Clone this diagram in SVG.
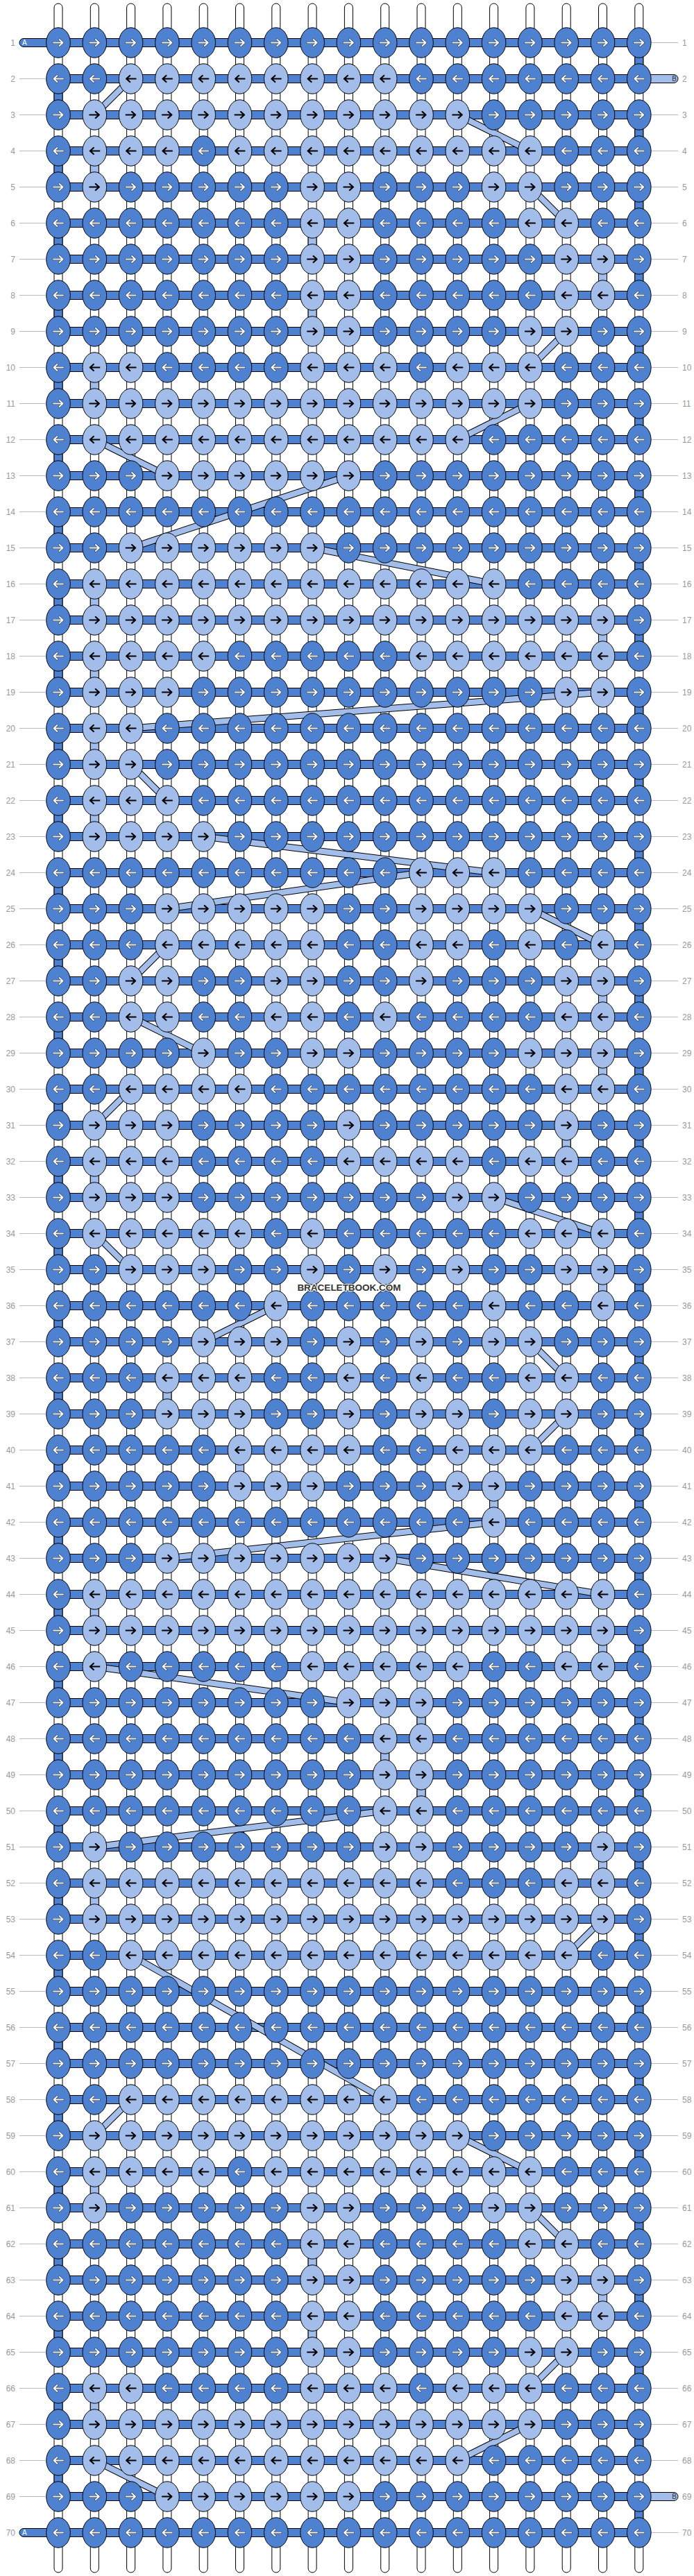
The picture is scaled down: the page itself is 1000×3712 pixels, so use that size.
<svg xmlns="http://www.w3.org/2000/svg" width="1000" height="3712" viewBox="0 0 1000 3712">
<style>
.lbl{font-family:"Liberation Sans",Arial,sans-serif;font-size:12px;fill:#999}
.gl{stroke:#bbb;stroke-width:1;fill:none}
.warp{fill:#fff;stroke:#000;stroke-width:1}
.dk{fill:#4f81d1;stroke:#000;stroke-width:1}
.lt{fill:#a3bdea;stroke:#000;stroke-width:1}
.ao{fill:none;stroke:#1a1a1a;stroke-width:3;stroke-linecap:round;stroke-linejoin:round}
.aw{fill:none;stroke:#fff;stroke-width:2;stroke-linecap:round;stroke-linejoin:round}
.ab{fill:none;stroke:#000;stroke-width:2.2;stroke-linecap:round;stroke-linejoin:round}
.wm{font-family:"Liberation Sans",Arial,sans-serif;font-size:13.5px;font-weight:bold;fill:#333;stroke:#fff;stroke-width:2;paint-order:stroke}
</style>
<defs>
<path id="pr" d="M-7,0H5.5M1.5,-4.5L6.5,0L1.5,4.5"/>
<path id="pl" d="M7,0H-5.5M-1.5,-4.5L-6.5,0L-1.5,4.5"/>
<g id="a"><ellipse class="dk" rx="17.3" ry="21.7"/><use href="#pr" class="ao"/><use href="#pr" class="aw"/></g>
<g id="b"><ellipse class="dk" rx="17.3" ry="21.7"/><use href="#pl" class="ao"/><use href="#pl" class="aw"/></g>
<g id="c"><ellipse class="lt" rx="17.3" ry="21.7"/><use href="#pr" class="ab"/></g>
<g id="d"><ellipse class="lt" rx="17.3" ry="21.7"/><use href="#pl" class="ab"/></g>
<path id="bd" d="M188.6,113.5L136.3,165.5M659.3,165.5L763.9,217.5M763.9,269.5L816.2,321.5M816.2,477.5L763.9,529.5M763.9,581.5L659.3,633.5M136.3,633.5L240.9,685.5M502.4,685.5L188.6,789.5M450.1,789.5L711.6,841.5M868.5,997.5L188.6,1049.5M188.6,1101.5L240.9,1153.5M293.2,1205.5L711.6,1257.5M607,1257.5L240.9,1309.5M763.9,1309.5L868.5,1361.5M240.9,1361.5L188.6,1413.5M188.6,1465.5L293.2,1517.5M188.6,1569.5L136.3,1621.5M711.6,1725.5L868.5,1777.5M136.3,1777.5L188.6,1829.5M397.8,1881.5L293.2,1933.5M763.9,1933.5L816.2,1985.5M816.2,2037.5L763.9,2089.5M711.6,2193.5L240.9,2245.5M554.7,2245.5L868.5,2297.5M136.3,2401.5L502.4,2453.5M554.7,2609.5L136.3,2661.5M868.5,2765.5L816.2,2817.5M188.6,2817.5L554.7,3025.5M188.6,3025.5L136.3,3077.5M659.3,3077.5L763.9,3129.5M763.9,3181.5L816.2,3233.5M816.2,3389.5L763.9,3441.5M763.9,3493.5L659.3,3545.5M136.3,3545.5L240.9,3597.5"/>
</defs>

<g id="labels">
<path class="gl" d="M28,113.5h38M28,165.5h38M28,217.5h38M28,269.5h38M28,321.5h38M28,373.5h38M28,425.5h38M28,477.5h38M28,529.5h38M28,581.5h38M28,633.5h38M28,685.5h38M28,737.5h38M28,789.5h38M28,841.5h38M28,893.5h38M28,945.5h38M28,997.5h38M28,1049.5h38M28,1101.5h38M28,1153.5h38M28,1205.5h38M28,1257.5h38M28,1309.5h38M28,1361.5h38M28,1413.5h38M28,1465.5h38M28,1517.5h38M28,1569.5h38M28,1621.5h38M28,1673.5h38M28,1725.5h38M28,1777.5h38M28,1829.5h38M28,1881.5h38M28,1933.5h38M28,1985.5h38M28,2037.5h38M28,2089.5h38M28,2141.5h38M28,2193.5h38M28,2245.5h38M28,2297.5h38M28,2349.5h38M28,2401.5h38M28,2453.5h38M28,2505.5h38M28,2557.5h38M28,2609.5h38M28,2661.5h38M28,2713.5h38M28,2765.5h38M28,2817.5h38M28,2869.5h38M28,2921.5h38M28,2973.5h38M28,3025.5h38M28,3077.5h38M28,3129.5h38M28,3181.5h38M28,3233.5h38M28,3285.5h38M28,3337.5h38M28,3389.5h38M28,3441.5h38M28,3493.5h38M28,3545.5h38M28,3597.5h38"/>
<path class="gl" d="M938,61.5h39M938,165.5h39M938,217.5h39M938,269.5h39M938,321.5h39M938,373.5h39M938,425.5h39M938,477.5h39M938,529.5h39M938,581.5h39M938,633.5h39M938,685.5h39M938,737.5h39M938,789.5h39M938,841.5h39M938,893.5h39M938,945.5h39M938,997.5h39M938,1049.5h39M938,1101.5h39M938,1153.5h39M938,1205.5h39M938,1257.5h39M938,1309.5h39M938,1361.5h39M938,1413.5h39M938,1465.5h39M938,1517.5h39M938,1569.5h39M938,1621.5h39M938,1673.5h39M938,1725.5h39M938,1777.5h39M938,1829.5h39M938,1881.5h39M938,1933.5h39M938,1985.5h39M938,2037.5h39M938,2089.5h39M938,2141.5h39M938,2193.5h39M938,2245.5h39M938,2297.5h39M938,2349.5h39M938,2401.5h39M938,2453.5h39M938,2505.5h39M938,2557.5h39M938,2609.5h39M938,2661.5h39M938,2713.5h39M938,2765.5h39M938,2817.5h39M938,2869.5h39M938,2921.5h39M938,2973.5h39M938,3025.5h39M938,3077.5h39M938,3129.5h39M938,3181.5h39M938,3233.5h39M938,3285.5h39M938,3337.5h39M938,3389.5h39M938,3441.5h39M938,3493.5h39M938,3545.5h39M938,3649.5h39"/>
<g class="lbl" text-anchor="end">
<text x="22" y="66">1</text><text x="22" y="118">2</text><text x="22" y="170">3</text><text x="22" y="222">4</text><text x="22" y="274">5</text><text x="22" y="326">6</text><text x="22" y="378">7</text><text x="22" y="430">8</text><text x="22" y="482">9</text><text x="22" y="534">10</text><text x="22" y="586">11</text><text x="22" y="638">12</text><text x="22" y="690">13</text><text x="22" y="742">14</text><text x="22" y="794">15</text><text x="22" y="846">16</text><text x="22" y="898">17</text><text x="22" y="950">18</text><text x="22" y="1002">19</text><text x="22" y="1054">20</text><text x="22" y="1106">21</text><text x="22" y="1158">22</text><text x="22" y="1210">23</text><text x="22" y="1262">24</text><text x="22" y="1314">25</text><text x="22" y="1366">26</text><text x="22" y="1418">27</text><text x="22" y="1470">28</text><text x="22" y="1522">29</text><text x="22" y="1574">30</text><text x="22" y="1626">31</text><text x="22" y="1678">32</text><text x="22" y="1730">33</text><text x="22" y="1782">34</text><text x="22" y="1834">35</text><text x="22" y="1886">36</text><text x="22" y="1938">37</text><text x="22" y="1990">38</text><text x="22" y="2042">39</text><text x="22" y="2094">40</text><text x="22" y="2146">41</text><text x="22" y="2198">42</text><text x="22" y="2250">43</text><text x="22" y="2302">44</text><text x="22" y="2354">45</text><text x="22" y="2406">46</text><text x="22" y="2458">47</text><text x="22" y="2510">48</text><text x="22" y="2562">49</text><text x="22" y="2614">50</text><text x="22" y="2666">51</text><text x="22" y="2718">52</text><text x="22" y="2770">53</text><text x="22" y="2822">54</text><text x="22" y="2874">55</text><text x="22" y="2926">56</text><text x="22" y="2978">57</text><text x="22" y="3030">58</text><text x="22" y="3082">59</text><text x="22" y="3134">60</text><text x="22" y="3186">61</text><text x="22" y="3238">62</text><text x="22" y="3290">63</text><text x="22" y="3342">64</text><text x="22" y="3394">65</text><text x="22" y="3446">66</text><text x="22" y="3498">67</text><text x="22" y="3550">68</text><text x="22" y="3602">69</text><text x="22" y="3654">70</text>
</g>
<g class="lbl">
<text x="983" y="66">1</text><text x="983" y="118">2</text><text x="983" y="170">3</text><text x="983" y="222">4</text><text x="983" y="274">5</text><text x="983" y="326">6</text><text x="983" y="378">7</text><text x="983" y="430">8</text><text x="983" y="482">9</text><text x="983" y="534">10</text><text x="983" y="586">11</text><text x="983" y="638">12</text><text x="983" y="690">13</text><text x="983" y="742">14</text><text x="983" y="794">15</text><text x="983" y="846">16</text><text x="983" y="898">17</text><text x="983" y="950">18</text><text x="983" y="1002">19</text><text x="983" y="1054">20</text><text x="983" y="1106">21</text><text x="983" y="1158">22</text><text x="983" y="1210">23</text><text x="983" y="1262">24</text><text x="983" y="1314">25</text><text x="983" y="1366">26</text><text x="983" y="1418">27</text><text x="983" y="1470">28</text><text x="983" y="1522">29</text><text x="983" y="1574">30</text><text x="983" y="1626">31</text><text x="983" y="1678">32</text><text x="983" y="1730">33</text><text x="983" y="1782">34</text><text x="983" y="1834">35</text><text x="983" y="1886">36</text><text x="983" y="1938">37</text><text x="983" y="1990">38</text><text x="983" y="2042">39</text><text x="983" y="2094">40</text><text x="983" y="2146">41</text><text x="983" y="2198">42</text><text x="983" y="2250">43</text><text x="983" y="2302">44</text><text x="983" y="2354">45</text><text x="983" y="2406">46</text><text x="983" y="2458">47</text><text x="983" y="2510">48</text><text x="983" y="2562">49</text><text x="983" y="2614">50</text><text x="983" y="2666">51</text><text x="983" y="2718">52</text><text x="983" y="2770">53</text><text x="983" y="2822">54</text><text x="983" y="2874">55</text><text x="983" y="2926">56</text><text x="983" y="2978">57</text><text x="983" y="3030">58</text><text x="983" y="3082">59</text><text x="983" y="3134">60</text><text x="983" y="3186">61</text><text x="983" y="3238">62</text><text x="983" y="3290">63</text><text x="983" y="3342">64</text><text x="983" y="3394">65</text><text x="983" y="3446">66</text><text x="983" y="3498">67</text><text x="983" y="3550">68</text><text x="983" y="3602">69</text><text x="983" y="3654">70</text>
</g>
</g>

<g id="warps">
<rect class="warp" x="78" y="5" width="12" height="3702" rx="6"/><rect class="warp" x="130.3" y="5" width="12" height="3702" rx="6"/><rect class="warp" x="182.6" y="5" width="12" height="3702" rx="6"/><rect class="warp" x="234.9" y="5" width="12" height="3702" rx="6"/><rect class="warp" x="287.2" y="5" width="12" height="3702" rx="6"/><rect class="warp" x="339.5" y="5" width="12" height="3702" rx="6"/><rect class="warp" x="391.8" y="5" width="12" height="3702" rx="6"/><rect class="warp" x="444.1" y="5" width="12" height="3702" rx="6"/><rect class="warp" x="496.4" y="5" width="12" height="3702" rx="6"/><rect class="warp" x="548.7" y="5" width="12" height="3702" rx="6"/><rect class="warp" x="601" y="5" width="12" height="3702" rx="6"/><rect class="warp" x="653.3" y="5" width="12" height="3702" rx="6"/><rect class="warp" x="705.6" y="5" width="12" height="3702" rx="6"/><rect class="warp" x="757.9" y="5" width="12" height="3702" rx="6"/><rect class="warp" x="810.2" y="5" width="12" height="3702" rx="6"/><rect class="warp" x="862.5" y="5" width="12" height="3702" rx="6"/><rect class="warp" x="914.8" y="5" width="12" height="3702" rx="6"/>
</g>

<g id="wefts">
<rect class="dk" x="28" y="55.5" width="64" height="12" rx="6"/>
<rect class="dk" x="28" y="3643.5" width="64" height="12" rx="6"/>
<rect class="lt" x="912" y="107.5" width="65" height="12" rx="6"/>
<rect class="lt" x="912" y="3591.5" width="65" height="12" rx="6"/>
<path class="dk" d="M84,55.5H920.8v12H84zM84,107.5H920.8v12H84zM84,159.5H920.8v12H84zM84,211.5H920.8v12H84zM84,263.5H920.8v12H84zM84,315.5H920.8v12H84zM84,367.5H920.8v12H84zM84,419.5H920.8v12H84zM84,471.5H920.8v12H84zM84,523.5H920.8v12H84zM84,575.5H920.8v12H84zM84,627.5H920.8v12H84zM84,679.5H920.8v12H84zM84,731.5H920.8v12H84zM84,783.5H920.8v12H84zM84,835.5H920.8v12H84zM84,887.5H920.8v12H84zM84,939.5H920.8v12H84zM84,991.5H920.8v12H84zM84,1043.5H920.8v12H84zM84,1095.5H920.8v12H84zM84,1147.5H920.8v12H84zM84,1199.5H920.8v12H84zM84,1251.5H920.8v12H84zM84,1303.5H920.8v12H84zM84,1355.5H920.8v12H84zM84,1407.5H920.8v12H84zM84,1459.5H920.8v12H84zM84,1511.5H920.8v12H84zM84,1563.5H920.8v12H84zM84,1615.5H920.8v12H84zM84,1667.5H920.8v12H84zM84,1719.5H920.8v12H84zM84,1771.5H920.8v12H84zM84,1823.5H920.8v12H84zM84,1875.5H920.8v12H84zM84,1927.5H920.8v12H84zM84,1979.5H920.8v12H84zM84,2031.5H920.8v12H84zM84,2083.5H920.8v12H84zM84,2135.5H920.8v12H84zM84,2187.5H920.8v12H84zM84,2239.5H920.8v12H84zM84,2291.5H920.8v12H84zM84,2343.5H920.8v12H84zM84,2395.5H920.8v12H84zM84,2447.5H920.8v12H84zM84,2499.5H920.8v12H84zM84,2551.5H920.8v12H84zM84,2603.5H920.8v12H84zM84,2655.5H920.8v12H84zM84,2707.5H920.8v12H84zM84,2759.5H920.8v12H84zM84,2811.5H920.8v12H84zM84,2863.5H920.8v12H84zM84,2915.5H920.8v12H84zM84,2967.5H920.8v12H84zM84,3019.5H920.8v12H84zM84,3071.5H920.8v12H84zM84,3123.5H920.8v12H84zM84,3175.5H920.8v12H84zM84,3227.5H920.8v12H84zM84,3279.5H920.8v12H84zM84,3331.5H920.8v12H84zM84,3383.5H920.8v12H84zM84,3435.5H920.8v12H84zM84,3487.5H920.8v12H84zM84,3539.5H920.8v12H84zM84,3591.5H920.8v12H84zM84,3643.5H920.8v12H84z"/>
<text x="32" y="65" font-family="Liberation Sans,Arial,sans-serif" font-size="10" fill="#fff">A</text>
<text x="32" y="3653" font-family="Liberation Sans,Arial,sans-serif" font-size="10" fill="#fff">A</text>
<text x="975" y="117" text-anchor="end" font-family="Liberation Sans,Arial,sans-serif" font-size="10" fill="#333">B</text>
<text x="975" y="3601" text-anchor="end" font-family="Liberation Sans,Arial,sans-serif" font-size="10" fill="#333">B</text>
</g>

<g id="connectors">
<path class="dk" d="M914.8,61.5h12v52h-12zM914.8,165.5h12v52h-12zM914.8,269.5h12v52h-12zM914.8,373.5h12v52h-12zM914.8,477.5h12v52h-12zM914.8,581.5h12v52h-12zM914.8,685.5h12v52h-12zM914.8,789.5h12v52h-12zM914.8,893.5h12v52h-12zM914.8,997.5h12v52h-12zM914.8,1101.5h12v52h-12zM914.8,1205.5h12v52h-12zM914.8,1309.5h12v52h-12zM914.8,1413.5h12v52h-12zM914.8,1517.5h12v52h-12zM914.8,1621.5h12v52h-12zM914.8,1725.5h12v52h-12zM914.8,1829.5h12v52h-12zM914.8,1933.5h12v52h-12zM914.8,2037.5h12v52h-12zM914.8,2141.5h12v52h-12zM914.8,2245.5h12v52h-12zM914.8,2349.5h12v52h-12zM914.8,2453.5h12v52h-12zM914.8,2557.5h12v52h-12zM914.8,2661.5h12v52h-12zM914.8,2765.5h12v52h-12zM914.8,2869.5h12v52h-12zM914.8,2973.5h12v52h-12zM914.8,3077.5h12v52h-12zM914.8,3181.5h12v52h-12zM914.8,3285.5h12v52h-12zM914.8,3389.5h12v52h-12zM914.8,3493.5h12v52h-12zM914.8,3597.5h12v52h-12zM78,113.5h12v52h-12zM78,217.5h12v52h-12zM78,321.5h12v52h-12zM78,425.5h12v52h-12zM78,529.5h12v52h-12zM78,633.5h12v52h-12zM78,737.5h12v52h-12zM78,841.5h12v52h-12zM78,945.5h12v52h-12zM78,1049.5h12v52h-12zM78,1153.5h12v52h-12zM78,1257.5h12v52h-12zM78,1361.5h12v52h-12zM78,1465.5h12v52h-12zM78,1569.5h12v52h-12zM78,1673.5h12v52h-12zM78,1777.5h12v52h-12zM78,1881.5h12v52h-12zM78,1985.5h12v52h-12zM78,2089.5h12v52h-12zM78,2193.5h12v52h-12zM78,2297.5h12v52h-12zM78,2401.5h12v52h-12zM78,2505.5h12v52h-12zM78,2609.5h12v52h-12zM78,2713.5h12v52h-12zM78,2817.5h12v52h-12zM78,2921.5h12v52h-12zM78,3025.5h12v52h-12zM78,3129.5h12v52h-12zM78,3233.5h12v52h-12zM78,3337.5h12v52h-12zM78,3441.5h12v52h-12zM78,3545.5h12v52h-12z"/>
<path class="lt" d="M130.3,217.5h12v52h-12zM130.3,529.5h12v52h-12zM130.3,841.5h12v52h-12zM130.3,945.5h12v52h-12zM130.3,1049.5h12v52h-12zM130.3,1153.5h12v52h-12zM130.3,1673.5h12v52h-12zM130.3,2297.5h12v52h-12zM130.3,2713.5h12v52h-12zM130.3,3129.5h12v52h-12zM130.3,3441.5h12v52h-12zM444.1,321.5h12v52h-12zM444.1,425.5h12v52h-12zM444.1,3233.5h12v52h-12zM444.1,3337.5h12v52h-12zM862.5,373.5h12v52h-12zM862.5,893.5h12v52h-12zM862.5,1413.5h12v52h-12zM862.5,1517.5h12v52h-12zM862.5,1829.5h12v52h-12zM862.5,2349.5h12v52h-12zM862.5,2661.5h12v52h-12zM862.5,3285.5h12v52h-12zM810.2,1621.5h12v52h-12zM234.9,1985.5h12v52h-12zM339.5,2089.5h12v52h-12zM705.6,2141.5h12v52h-12zM601,2453.5h12v52h-12zM601,2557.5h12v52h-12zM548.7,2505.5h12v52h-12z"/>
<use href="#bd" fill="none" stroke="#000" stroke-width="10"/>
<use href="#bd" fill="none" stroke="#a3bdea" stroke-width="8"/>
</g>

<g id="knots">
<g id="r1" transform="translate(0,61.5)"><use href="#a" x="84"/><use href="#a" x="136.3"/><use href="#a" x="188.6"/><use href="#a" x="240.9"/><use href="#a" x="293.2"/><use href="#a" x="345.5"/><use href="#a" x="397.8"/><use href="#a" x="450.1"/><use href="#a" x="502.4"/><use href="#a" x="554.7"/><use href="#a" x="607"/><use href="#a" x="659.3"/><use href="#a" x="711.6"/><use href="#a" x="763.9"/><use href="#a" x="816.2"/><use href="#a" x="868.5"/><use href="#a" x="920.8"/></g>
<g id="r2" transform="translate(0,113.5)"><use href="#b" x="84"/><use href="#b" x="136.3"/><use href="#d" x="188.6"/><use href="#d" x="240.9"/><use href="#d" x="293.2"/><use href="#d" x="345.5"/><use href="#d" x="397.8"/><use href="#d" x="450.1"/><use href="#d" x="502.4"/><use href="#d" x="554.7"/><use href="#b" x="607"/><use href="#b" x="659.3"/><use href="#b" x="711.6"/><use href="#b" x="763.9"/><use href="#b" x="816.2"/><use href="#b" x="868.5"/><use href="#b" x="920.8"/></g>
<g id="r3" transform="translate(0,165.5)"><use href="#a" x="84"/><use href="#c" x="136.3"/><use href="#c" x="188.6"/><use href="#c" x="240.9"/><use href="#c" x="293.2"/><use href="#c" x="345.5"/><use href="#c" x="397.8"/><use href="#c" x="450.1"/><use href="#c" x="502.4"/><use href="#c" x="554.7"/><use href="#c" x="607"/><use href="#c" x="659.3"/><use href="#a" x="711.6"/><use href="#a" x="763.9"/><use href="#a" x="816.2"/><use href="#a" x="868.5"/><use href="#a" x="920.8"/></g>
<g id="r4" transform="translate(0,217.5)"><use href="#b" x="84"/><use href="#d" x="136.3"/><use href="#d" x="188.6"/><use href="#d" x="240.9"/><use href="#b" x="293.2"/><use href="#d" x="345.5"/><use href="#d" x="397.8"/><use href="#d" x="450.1"/><use href="#d" x="502.4"/><use href="#d" x="554.7"/><use href="#d" x="607"/><use href="#d" x="659.3"/><use href="#d" x="711.6"/><use href="#d" x="763.9"/><use href="#b" x="816.2"/><use href="#b" x="868.5"/><use href="#b" x="920.8"/></g>
<g id="r5" transform="translate(0,269.5)"><use href="#a" x="84"/><use href="#c" x="136.3"/><use href="#a" x="188.6"/><use href="#a" x="240.9"/><use href="#a" x="293.2"/><use href="#a" x="345.5"/><use href="#a" x="397.8"/><use href="#c" x="450.1"/><use href="#c" x="502.4"/><use href="#a" x="554.7"/><use href="#a" x="607"/><use href="#a" x="659.3"/><use href="#c" x="711.6"/><use href="#c" x="763.9"/><use href="#a" x="816.2"/><use href="#a" x="868.5"/><use href="#a" x="920.8"/></g>
<g id="r6" transform="translate(0,321.5)"><use href="#b" x="84"/><use href="#b" x="136.3"/><use href="#b" x="188.6"/><use href="#b" x="240.9"/><use href="#b" x="293.2"/><use href="#b" x="345.5"/><use href="#b" x="397.8"/><use href="#d" x="450.1"/><use href="#d" x="502.4"/><use href="#b" x="554.7"/><use href="#b" x="607"/><use href="#b" x="659.3"/><use href="#b" x="711.6"/><use href="#d" x="763.9"/><use href="#d" x="816.2"/><use href="#b" x="868.5"/><use href="#b" x="920.8"/></g>
<g id="r7" transform="translate(0,373.5)"><use href="#a" x="84"/><use href="#a" x="136.3"/><use href="#a" x="188.6"/><use href="#a" x="240.9"/><use href="#a" x="293.2"/><use href="#a" x="345.5"/><use href="#a" x="397.8"/><use href="#c" x="450.1"/><use href="#c" x="502.4"/><use href="#a" x="554.7"/><use href="#a" x="607"/><use href="#a" x="659.3"/><use href="#a" x="711.6"/><use href="#a" x="763.9"/><use href="#c" x="816.2"/><use href="#c" x="868.5"/><use href="#a" x="920.8"/></g>
<g id="r8" transform="translate(0,425.5)"><use href="#b" x="84"/><use href="#b" x="136.3"/><use href="#b" x="188.6"/><use href="#b" x="240.9"/><use href="#b" x="293.2"/><use href="#b" x="345.5"/><use href="#b" x="397.8"/><use href="#d" x="450.1"/><use href="#d" x="502.4"/><use href="#b" x="554.7"/><use href="#b" x="607"/><use href="#b" x="659.3"/><use href="#b" x="711.6"/><use href="#b" x="763.9"/><use href="#d" x="816.2"/><use href="#d" x="868.5"/><use href="#b" x="920.8"/></g>
<g id="r9" transform="translate(0,477.5)"><use href="#a" x="84"/><use href="#a" x="136.3"/><use href="#a" x="188.6"/><use href="#a" x="240.9"/><use href="#a" x="293.2"/><use href="#a" x="345.5"/><use href="#a" x="397.8"/><use href="#c" x="450.1"/><use href="#c" x="502.4"/><use href="#a" x="554.7"/><use href="#a" x="607"/><use href="#a" x="659.3"/><use href="#a" x="711.6"/><use href="#c" x="763.9"/><use href="#c" x="816.2"/><use href="#a" x="868.5"/><use href="#a" x="920.8"/></g>
<g id="r10" transform="translate(0,529.5)"><use href="#b" x="84"/><use href="#d" x="136.3"/><use href="#d" x="188.6"/><use href="#b" x="240.9"/><use href="#b" x="293.2"/><use href="#b" x="345.5"/><use href="#b" x="397.8"/><use href="#d" x="450.1"/><use href="#d" x="502.4"/><use href="#d" x="554.7"/><use href="#b" x="607"/><use href="#d" x="659.3"/><use href="#d" x="711.6"/><use href="#d" x="763.9"/><use href="#b" x="816.2"/><use href="#b" x="868.5"/><use href="#b" x="920.8"/></g>
<g id="r11" transform="translate(0,581.5)"><use href="#a" x="84"/><use href="#c" x="136.3"/><use href="#c" x="188.6"/><use href="#c" x="240.9"/><use href="#c" x="293.2"/><use href="#c" x="345.5"/><use href="#c" x="397.8"/><use href="#c" x="450.1"/><use href="#c" x="502.4"/><use href="#c" x="554.7"/><use href="#c" x="607"/><use href="#c" x="659.3"/><use href="#c" x="711.6"/><use href="#c" x="763.9"/><use href="#a" x="816.2"/><use href="#a" x="868.5"/><use href="#a" x="920.8"/></g>
<g id="r12" transform="translate(0,633.5)"><use href="#b" x="84"/><use href="#d" x="136.3"/><use href="#d" x="188.6"/><use href="#d" x="240.9"/><use href="#d" x="293.2"/><use href="#d" x="345.5"/><use href="#d" x="397.8"/><use href="#d" x="450.1"/><use href="#d" x="502.4"/><use href="#d" x="554.7"/><use href="#d" x="607"/><use href="#d" x="659.3"/><use href="#b" x="711.6"/><use href="#b" x="763.9"/><use href="#b" x="816.2"/><use href="#b" x="868.5"/><use href="#b" x="920.8"/></g>
<g id="r13" transform="translate(0,685.5)"><use href="#a" x="84"/><use href="#a" x="136.3"/><use href="#a" x="188.6"/><use href="#c" x="240.9"/><use href="#c" x="293.2"/><use href="#c" x="345.5"/><use href="#c" x="397.8"/><use href="#c" x="450.1"/><use href="#c" x="502.4"/><use href="#a" x="554.7"/><use href="#a" x="607"/><use href="#a" x="659.3"/><use href="#a" x="711.6"/><use href="#a" x="763.9"/><use href="#a" x="816.2"/><use href="#a" x="868.5"/><use href="#a" x="920.8"/></g>
<g id="r14" transform="translate(0,737.5)"><use href="#b" x="84"/><use href="#b" x="136.3"/><use href="#b" x="188.6"/><use href="#b" x="240.9"/><use href="#b" x="293.2"/><use href="#b" x="345.5"/><use href="#b" x="397.8"/><use href="#b" x="450.1"/><use href="#b" x="502.4"/><use href="#b" x="554.7"/><use href="#b" x="607"/><use href="#b" x="659.3"/><use href="#b" x="711.6"/><use href="#b" x="763.9"/><use href="#b" x="816.2"/><use href="#b" x="868.5"/><use href="#b" x="920.8"/></g>
<g id="r15" transform="translate(0,789.5)"><use href="#a" x="84"/><use href="#a" x="136.3"/><use href="#c" x="188.6"/><use href="#c" x="240.9"/><use href="#c" x="293.2"/><use href="#c" x="345.5"/><use href="#c" x="397.8"/><use href="#c" x="450.1"/><use href="#a" x="502.4"/><use href="#a" x="554.7"/><use href="#a" x="607"/><use href="#a" x="659.3"/><use href="#a" x="711.6"/><use href="#a" x="763.9"/><use href="#a" x="816.2"/><use href="#a" x="868.5"/><use href="#a" x="920.8"/></g>
<g id="r16" transform="translate(0,841.5)"><use href="#b" x="84"/><use href="#d" x="136.3"/><use href="#d" x="188.6"/><use href="#d" x="240.9"/><use href="#d" x="293.2"/><use href="#d" x="345.5"/><use href="#d" x="397.8"/><use href="#d" x="450.1"/><use href="#d" x="502.4"/><use href="#d" x="554.7"/><use href="#d" x="607"/><use href="#d" x="659.3"/><use href="#d" x="711.6"/><use href="#b" x="763.9"/><use href="#b" x="816.2"/><use href="#b" x="868.5"/><use href="#b" x="920.8"/></g>
<g id="r17" transform="translate(0,893.5)"><use href="#a" x="84"/><use href="#c" x="136.3"/><use href="#c" x="188.6"/><use href="#c" x="240.9"/><use href="#c" x="293.2"/><use href="#c" x="345.5"/><use href="#c" x="397.8"/><use href="#c" x="450.1"/><use href="#c" x="502.4"/><use href="#c" x="554.7"/><use href="#c" x="607"/><use href="#c" x="659.3"/><use href="#c" x="711.6"/><use href="#c" x="763.9"/><use href="#c" x="816.2"/><use href="#c" x="868.5"/><use href="#a" x="920.8"/></g>
<g id="r18" transform="translate(0,945.5)"><use href="#b" x="84"/><use href="#d" x="136.3"/><use href="#d" x="188.6"/><use href="#d" x="240.9"/><use href="#d" x="293.2"/><use href="#b" x="345.5"/><use href="#b" x="397.8"/><use href="#b" x="450.1"/><use href="#b" x="502.4"/><use href="#b" x="554.7"/><use href="#d" x="607"/><use href="#d" x="659.3"/><use href="#d" x="711.6"/><use href="#d" x="763.9"/><use href="#d" x="816.2"/><use href="#d" x="868.5"/><use href="#b" x="920.8"/></g>
<g id="r19" transform="translate(0,997.5)"><use href="#a" x="84"/><use href="#c" x="136.3"/><use href="#c" x="188.6"/><use href="#c" x="240.9"/><use href="#a" x="293.2"/><use href="#a" x="345.5"/><use href="#a" x="397.8"/><use href="#a" x="450.1"/><use href="#a" x="502.4"/><use href="#a" x="554.7"/><use href="#a" x="607"/><use href="#a" x="659.3"/><use href="#a" x="711.6"/><use href="#a" x="763.9"/><use href="#c" x="816.2"/><use href="#c" x="868.5"/><use href="#a" x="920.8"/></g>
<g id="r20" transform="translate(0,1049.5)"><use href="#b" x="84"/><use href="#d" x="136.3"/><use href="#d" x="188.6"/><use href="#b" x="240.9"/><use href="#b" x="293.2"/><use href="#b" x="345.5"/><use href="#b" x="397.8"/><use href="#b" x="450.1"/><use href="#b" x="502.4"/><use href="#b" x="554.7"/><use href="#b" x="607"/><use href="#b" x="659.3"/><use href="#b" x="711.6"/><use href="#b" x="763.9"/><use href="#b" x="816.2"/><use href="#b" x="868.5"/><use href="#b" x="920.8"/></g>
<g id="r21" transform="translate(0,1101.5)"><use href="#a" x="84"/><use href="#c" x="136.3"/><use href="#c" x="188.6"/><use href="#a" x="240.9"/><use href="#a" x="293.2"/><use href="#a" x="345.5"/><use href="#a" x="397.8"/><use href="#a" x="450.1"/><use href="#a" x="502.4"/><use href="#a" x="554.7"/><use href="#a" x="607"/><use href="#a" x="659.3"/><use href="#a" x="711.6"/><use href="#a" x="763.9"/><use href="#a" x="816.2"/><use href="#a" x="868.5"/><use href="#a" x="920.8"/></g>
<g id="r22" transform="translate(0,1153.5)"><use href="#b" x="84"/><use href="#d" x="136.3"/><use href="#d" x="188.6"/><use href="#d" x="240.9"/><use href="#b" x="293.2"/><use href="#b" x="345.5"/><use href="#b" x="397.8"/><use href="#b" x="450.1"/><use href="#b" x="502.4"/><use href="#b" x="554.7"/><use href="#b" x="607"/><use href="#b" x="659.3"/><use href="#b" x="711.6"/><use href="#b" x="763.9"/><use href="#b" x="816.2"/><use href="#b" x="868.5"/><use href="#b" x="920.8"/></g>
<g id="r23" transform="translate(0,1205.5)"><use href="#a" x="84"/><use href="#c" x="136.3"/><use href="#c" x="188.6"/><use href="#c" x="240.9"/><use href="#c" x="293.2"/><use href="#a" x="345.5"/><use href="#a" x="397.8"/><use href="#a" x="450.1"/><use href="#a" x="502.4"/><use href="#a" x="554.7"/><use href="#a" x="607"/><use href="#a" x="659.3"/><use href="#a" x="711.6"/><use href="#a" x="763.9"/><use href="#a" x="816.2"/><use href="#a" x="868.5"/><use href="#a" x="920.8"/></g>
<g id="r24" transform="translate(0,1257.5)"><use href="#b" x="84"/><use href="#b" x="136.3"/><use href="#b" x="188.6"/><use href="#b" x="240.9"/><use href="#b" x="293.2"/><use href="#b" x="345.5"/><use href="#b" x="397.8"/><use href="#b" x="450.1"/><use href="#b" x="502.4"/><use href="#b" x="554.7"/><use href="#d" x="607"/><use href="#d" x="659.3"/><use href="#d" x="711.6"/><use href="#b" x="763.9"/><use href="#b" x="816.2"/><use href="#b" x="868.5"/><use href="#b" x="920.8"/></g>
<g id="r25" transform="translate(0,1309.5)"><use href="#a" x="84"/><use href="#a" x="136.3"/><use href="#a" x="188.6"/><use href="#c" x="240.9"/><use href="#c" x="293.2"/><use href="#c" x="345.5"/><use href="#c" x="397.8"/><use href="#c" x="450.1"/><use href="#a" x="502.4"/><use href="#a" x="554.7"/><use href="#c" x="607"/><use href="#c" x="659.3"/><use href="#c" x="711.6"/><use href="#c" x="763.9"/><use href="#a" x="816.2"/><use href="#a" x="868.5"/><use href="#a" x="920.8"/></g>
<g id="r26" transform="translate(0,1361.5)"><use href="#b" x="84"/><use href="#b" x="136.3"/><use href="#b" x="188.6"/><use href="#d" x="240.9"/><use href="#d" x="293.2"/><use href="#d" x="345.5"/><use href="#d" x="397.8"/><use href="#d" x="450.1"/><use href="#b" x="502.4"/><use href="#b" x="554.7"/><use href="#d" x="607"/><use href="#d" x="659.3"/><use href="#b" x="711.6"/><use href="#d" x="763.9"/><use href="#b" x="816.2"/><use href="#d" x="868.5"/><use href="#b" x="920.8"/></g>
<g id="r27" transform="translate(0,1413.5)"><use href="#a" x="84"/><use href="#a" x="136.3"/><use href="#c" x="188.6"/><use href="#c" x="240.9"/><use href="#a" x="293.2"/><use href="#a" x="345.5"/><use href="#c" x="397.8"/><use href="#c" x="450.1"/><use href="#a" x="502.4"/><use href="#a" x="554.7"/><use href="#c" x="607"/><use href="#a" x="659.3"/><use href="#a" x="711.6"/><use href="#a" x="763.9"/><use href="#c" x="816.2"/><use href="#c" x="868.5"/><use href="#a" x="920.8"/></g>
<g id="r28" transform="translate(0,1465.5)"><use href="#b" x="84"/><use href="#b" x="136.3"/><use href="#d" x="188.6"/><use href="#d" x="240.9"/><use href="#b" x="293.2"/><use href="#b" x="345.5"/><use href="#d" x="397.8"/><use href="#d" x="450.1"/><use href="#b" x="502.4"/><use href="#d" x="554.7"/><use href="#b" x="607"/><use href="#b" x="659.3"/><use href="#b" x="711.6"/><use href="#b" x="763.9"/><use href="#d" x="816.2"/><use href="#d" x="868.5"/><use href="#b" x="920.8"/></g>
<g id="r29" transform="translate(0,1517.5)"><use href="#a" x="84"/><use href="#a" x="136.3"/><use href="#a" x="188.6"/><use href="#a" x="240.9"/><use href="#c" x="293.2"/><use href="#a" x="345.5"/><use href="#a" x="397.8"/><use href="#c" x="450.1"/><use href="#c" x="502.4"/><use href="#a" x="554.7"/><use href="#a" x="607"/><use href="#a" x="659.3"/><use href="#a" x="711.6"/><use href="#c" x="763.9"/><use href="#c" x="816.2"/><use href="#c" x="868.5"/><use href="#a" x="920.8"/></g>
<g id="r30" transform="translate(0,1569.5)"><use href="#b" x="84"/><use href="#b" x="136.3"/><use href="#d" x="188.6"/><use href="#d" x="240.9"/><use href="#d" x="293.2"/><use href="#d" x="345.5"/><use href="#b" x="397.8"/><use href="#b" x="450.1"/><use href="#b" x="502.4"/><use href="#b" x="554.7"/><use href="#b" x="607"/><use href="#b" x="659.3"/><use href="#b" x="711.6"/><use href="#b" x="763.9"/><use href="#d" x="816.2"/><use href="#d" x="868.5"/><use href="#b" x="920.8"/></g>
<g id="r31" transform="translate(0,1621.5)"><use href="#a" x="84"/><use href="#c" x="136.3"/><use href="#c" x="188.6"/><use href="#c" x="240.9"/><use href="#a" x="293.2"/><use href="#a" x="345.5"/><use href="#a" x="397.8"/><use href="#a" x="450.1"/><use href="#c" x="502.4"/><use href="#a" x="554.7"/><use href="#a" x="607"/><use href="#a" x="659.3"/><use href="#a" x="711.6"/><use href="#a" x="763.9"/><use href="#c" x="816.2"/><use href="#a" x="868.5"/><use href="#a" x="920.8"/></g>
<g id="r32" transform="translate(0,1673.5)"><use href="#b" x="84"/><use href="#d" x="136.3"/><use href="#d" x="188.6"/><use href="#d" x="240.9"/><use href="#b" x="293.2"/><use href="#b" x="345.5"/><use href="#b" x="397.8"/><use href="#b" x="450.1"/><use href="#d" x="502.4"/><use href="#d" x="554.7"/><use href="#d" x="607"/><use href="#d" x="659.3"/><use href="#b" x="711.6"/><use href="#d" x="763.9"/><use href="#d" x="816.2"/><use href="#b" x="868.5"/><use href="#b" x="920.8"/></g>
<g id="r33" transform="translate(0,1725.5)"><use href="#a" x="84"/><use href="#c" x="136.3"/><use href="#c" x="188.6"/><use href="#c" x="240.9"/><use href="#a" x="293.2"/><use href="#a" x="345.5"/><use href="#a" x="397.8"/><use href="#a" x="450.1"/><use href="#a" x="502.4"/><use href="#a" x="554.7"/><use href="#a" x="607"/><use href="#c" x="659.3"/><use href="#c" x="711.6"/><use href="#a" x="763.9"/><use href="#a" x="816.2"/><use href="#a" x="868.5"/><use href="#a" x="920.8"/></g>
<g id="r34" transform="translate(0,1777.5)"><use href="#b" x="84"/><use href="#d" x="136.3"/><use href="#d" x="188.6"/><use href="#d" x="240.9"/><use href="#d" x="293.2"/><use href="#d" x="345.5"/><use href="#b" x="397.8"/><use href="#d" x="450.1"/><use href="#b" x="502.4"/><use href="#b" x="554.7"/><use href="#b" x="607"/><use href="#b" x="659.3"/><use href="#b" x="711.6"/><use href="#d" x="763.9"/><use href="#d" x="816.2"/><use href="#d" x="868.5"/><use href="#b" x="920.8"/></g>
<g id="r35" transform="translate(0,1829.5)"><use href="#a" x="84"/><use href="#a" x="136.3"/><use href="#c" x="188.6"/><use href="#c" x="240.9"/><use href="#c" x="293.2"/><use href="#a" x="345.5"/><use href="#a" x="397.8"/><use href="#c" x="450.1"/><use href="#a" x="502.4"/><use href="#c" x="554.7"/><use href="#a" x="607"/><use href="#c" x="659.3"/><use href="#a" x="711.6"/><use href="#a" x="763.9"/><use href="#c" x="816.2"/><use href="#c" x="868.5"/><use href="#a" x="920.8"/></g>
<g id="r36" transform="translate(0,1881.5)"><use href="#b" x="84"/><use href="#b" x="136.3"/><use href="#b" x="188.6"/><use href="#b" x="240.9"/><use href="#b" x="293.2"/><use href="#b" x="345.5"/><use href="#d" x="397.8"/><use href="#b" x="450.1"/><use href="#b" x="502.4"/><use href="#b" x="554.7"/><use href="#b" x="607"/><use href="#b" x="659.3"/><use href="#d" x="711.6"/><use href="#b" x="763.9"/><use href="#b" x="816.2"/><use href="#d" x="868.5"/><use href="#b" x="920.8"/></g>
<g id="r37" transform="translate(0,1933.5)"><use href="#a" x="84"/><use href="#a" x="136.3"/><use href="#a" x="188.6"/><use href="#a" x="240.9"/><use href="#c" x="293.2"/><use href="#c" x="345.5"/><use href="#c" x="397.8"/><use href="#a" x="450.1"/><use href="#c" x="502.4"/><use href="#a" x="554.7"/><use href="#c" x="607"/><use href="#a" x="659.3"/><use href="#c" x="711.6"/><use href="#c" x="763.9"/><use href="#a" x="816.2"/><use href="#a" x="868.5"/><use href="#a" x="920.8"/></g>
<g id="r38" transform="translate(0,1985.5)"><use href="#b" x="84"/><use href="#b" x="136.3"/><use href="#b" x="188.6"/><use href="#d" x="240.9"/><use href="#d" x="293.2"/><use href="#d" x="345.5"/><use href="#b" x="397.8"/><use href="#b" x="450.1"/><use href="#d" x="502.4"/><use href="#b" x="554.7"/><use href="#d" x="607"/><use href="#b" x="659.3"/><use href="#b" x="711.6"/><use href="#d" x="763.9"/><use href="#d" x="816.2"/><use href="#b" x="868.5"/><use href="#b" x="920.8"/></g>
<g id="r39" transform="translate(0,2037.5)"><use href="#a" x="84"/><use href="#a" x="136.3"/><use href="#a" x="188.6"/><use href="#c" x="240.9"/><use href="#c" x="293.2"/><use href="#c" x="345.5"/><use href="#a" x="397.8"/><use href="#a" x="450.1"/><use href="#c" x="502.4"/><use href="#a" x="554.7"/><use href="#c" x="607"/><use href="#c" x="659.3"/><use href="#a" x="711.6"/><use href="#c" x="763.9"/><use href="#c" x="816.2"/><use href="#a" x="868.5"/><use href="#a" x="920.8"/></g>
<g id="r40" transform="translate(0,2089.5)"><use href="#b" x="84"/><use href="#b" x="136.3"/><use href="#b" x="188.6"/><use href="#b" x="240.9"/><use href="#b" x="293.2"/><use href="#d" x="345.5"/><use href="#d" x="397.8"/><use href="#d" x="450.1"/><use href="#d" x="502.4"/><use href="#b" x="554.7"/><use href="#b" x="607"/><use href="#d" x="659.3"/><use href="#d" x="711.6"/><use href="#d" x="763.9"/><use href="#b" x="816.2"/><use href="#b" x="868.5"/><use href="#b" x="920.8"/></g>
<g id="r41" transform="translate(0,2141.5)"><use href="#a" x="84"/><use href="#a" x="136.3"/><use href="#a" x="188.6"/><use href="#a" x="240.9"/><use href="#a" x="293.2"/><use href="#c" x="345.5"/><use href="#c" x="397.8"/><use href="#c" x="450.1"/><use href="#a" x="502.4"/><use href="#a" x="554.7"/><use href="#a" x="607"/><use href="#c" x="659.3"/><use href="#c" x="711.6"/><use href="#a" x="763.9"/><use href="#a" x="816.2"/><use href="#a" x="868.5"/><use href="#a" x="920.8"/></g>
<g id="r42" transform="translate(0,2193.5)"><use href="#b" x="84"/><use href="#b" x="136.3"/><use href="#b" x="188.6"/><use href="#b" x="240.9"/><use href="#b" x="293.2"/><use href="#b" x="345.5"/><use href="#b" x="397.8"/><use href="#b" x="450.1"/><use href="#b" x="502.4"/><use href="#b" x="554.7"/><use href="#b" x="607"/><use href="#b" x="659.3"/><use href="#d" x="711.6"/><use href="#b" x="763.9"/><use href="#b" x="816.2"/><use href="#b" x="868.5"/><use href="#b" x="920.8"/></g>
<g id="r43" transform="translate(0,2245.5)"><use href="#a" x="84"/><use href="#a" x="136.3"/><use href="#a" x="188.6"/><use href="#c" x="240.9"/><use href="#c" x="293.2"/><use href="#c" x="345.5"/><use href="#c" x="397.8"/><use href="#c" x="450.1"/><use href="#c" x="502.4"/><use href="#c" x="554.7"/><use href="#a" x="607"/><use href="#a" x="659.3"/><use href="#a" x="711.6"/><use href="#a" x="763.9"/><use href="#a" x="816.2"/><use href="#a" x="868.5"/><use href="#a" x="920.8"/></g>
<g id="r44" transform="translate(0,2297.5)"><use href="#b" x="84"/><use href="#d" x="136.3"/><use href="#d" x="188.6"/><use href="#d" x="240.9"/><use href="#d" x="293.2"/><use href="#d" x="345.5"/><use href="#d" x="397.8"/><use href="#d" x="450.1"/><use href="#d" x="502.4"/><use href="#d" x="554.7"/><use href="#d" x="607"/><use href="#d" x="659.3"/><use href="#d" x="711.6"/><use href="#d" x="763.9"/><use href="#d" x="816.2"/><use href="#d" x="868.5"/><use href="#b" x="920.8"/></g>
<g id="r45" transform="translate(0,2349.5)"><use href="#a" x="84"/><use href="#c" x="136.3"/><use href="#c" x="188.6"/><use href="#c" x="240.9"/><use href="#c" x="293.2"/><use href="#c" x="345.5"/><use href="#c" x="397.8"/><use href="#c" x="450.1"/><use href="#c" x="502.4"/><use href="#c" x="554.7"/><use href="#c" x="607"/><use href="#c" x="659.3"/><use href="#c" x="711.6"/><use href="#c" x="763.9"/><use href="#c" x="816.2"/><use href="#c" x="868.5"/><use href="#a" x="920.8"/></g>
<g id="r46" transform="translate(0,2401.5)"><use href="#b" x="84"/><use href="#d" x="136.3"/><use href="#b" x="188.6"/><use href="#b" x="240.9"/><use href="#b" x="293.2"/><use href="#b" x="345.5"/><use href="#b" x="397.8"/><use href="#d" x="450.1"/><use href="#d" x="502.4"/><use href="#d" x="554.7"/><use href="#d" x="607"/><use href="#d" x="659.3"/><use href="#b" x="711.6"/><use href="#b" x="763.9"/><use href="#d" x="816.2"/><use href="#d" x="868.5"/><use href="#b" x="920.8"/></g>
<g id="r47" transform="translate(0,2453.5)"><use href="#a" x="84"/><use href="#a" x="136.3"/><use href="#a" x="188.6"/><use href="#a" x="240.9"/><use href="#a" x="293.2"/><use href="#a" x="345.5"/><use href="#a" x="397.8"/><use href="#a" x="450.1"/><use href="#c" x="502.4"/><use href="#c" x="554.7"/><use href="#c" x="607"/><use href="#a" x="659.3"/><use href="#a" x="711.6"/><use href="#a" x="763.9"/><use href="#a" x="816.2"/><use href="#a" x="868.5"/><use href="#a" x="920.8"/></g>
<g id="r48" transform="translate(0,2505.5)"><use href="#b" x="84"/><use href="#b" x="136.3"/><use href="#b" x="188.6"/><use href="#b" x="240.9"/><use href="#b" x="293.2"/><use href="#b" x="345.5"/><use href="#b" x="397.8"/><use href="#b" x="450.1"/><use href="#b" x="502.4"/><use href="#d" x="554.7"/><use href="#d" x="607"/><use href="#b" x="659.3"/><use href="#b" x="711.6"/><use href="#b" x="763.9"/><use href="#b" x="816.2"/><use href="#b" x="868.5"/><use href="#b" x="920.8"/></g>
<g id="r49" transform="translate(0,2557.5)"><use href="#a" x="84"/><use href="#a" x="136.3"/><use href="#a" x="188.6"/><use href="#a" x="240.9"/><use href="#a" x="293.2"/><use href="#a" x="345.5"/><use href="#a" x="397.8"/><use href="#a" x="450.1"/><use href="#a" x="502.4"/><use href="#c" x="554.7"/><use href="#c" x="607"/><use href="#a" x="659.3"/><use href="#a" x="711.6"/><use href="#a" x="763.9"/><use href="#a" x="816.2"/><use href="#a" x="868.5"/><use href="#a" x="920.8"/></g>
<g id="r50" transform="translate(0,2609.5)"><use href="#b" x="84"/><use href="#b" x="136.3"/><use href="#b" x="188.6"/><use href="#b" x="240.9"/><use href="#b" x="293.2"/><use href="#b" x="345.5"/><use href="#b" x="397.8"/><use href="#b" x="450.1"/><use href="#b" x="502.4"/><use href="#d" x="554.7"/><use href="#d" x="607"/><use href="#b" x="659.3"/><use href="#b" x="711.6"/><use href="#b" x="763.9"/><use href="#b" x="816.2"/><use href="#b" x="868.5"/><use href="#b" x="920.8"/></g>
<g id="r51" transform="translate(0,2661.5)"><use href="#a" x="84"/><use href="#c" x="136.3"/><use href="#a" x="188.6"/><use href="#a" x="240.9"/><use href="#a" x="293.2"/><use href="#a" x="345.5"/><use href="#a" x="397.8"/><use href="#a" x="450.1"/><use href="#a" x="502.4"/><use href="#c" x="554.7"/><use href="#c" x="607"/><use href="#a" x="659.3"/><use href="#a" x="711.6"/><use href="#a" x="763.9"/><use href="#a" x="816.2"/><use href="#c" x="868.5"/><use href="#a" x="920.8"/></g>
<g id="r52" transform="translate(0,2713.5)"><use href="#b" x="84"/><use href="#d" x="136.3"/><use href="#d" x="188.6"/><use href="#d" x="240.9"/><use href="#d" x="293.2"/><use href="#d" x="345.5"/><use href="#d" x="397.8"/><use href="#d" x="450.1"/><use href="#d" x="502.4"/><use href="#d" x="554.7"/><use href="#d" x="607"/><use href="#b" x="659.3"/><use href="#b" x="711.6"/><use href="#b" x="763.9"/><use href="#d" x="816.2"/><use href="#d" x="868.5"/><use href="#b" x="920.8"/></g>
<g id="r53" transform="translate(0,2765.5)"><use href="#a" x="84"/><use href="#c" x="136.3"/><use href="#c" x="188.6"/><use href="#c" x="240.9"/><use href="#c" x="293.2"/><use href="#c" x="345.5"/><use href="#c" x="397.8"/><use href="#c" x="450.1"/><use href="#c" x="502.4"/><use href="#c" x="554.7"/><use href="#c" x="607"/><use href="#c" x="659.3"/><use href="#c" x="711.6"/><use href="#c" x="763.9"/><use href="#c" x="816.2"/><use href="#c" x="868.5"/><use href="#a" x="920.8"/></g>
<g id="r54" transform="translate(0,2817.5)"><use href="#b" x="84"/><use href="#b" x="136.3"/><use href="#d" x="188.6"/><use href="#d" x="240.9"/><use href="#d" x="293.2"/><use href="#d" x="345.5"/><use href="#d" x="397.8"/><use href="#d" x="450.1"/><use href="#d" x="502.4"/><use href="#d" x="554.7"/><use href="#d" x="607"/><use href="#d" x="659.3"/><use href="#d" x="711.6"/><use href="#d" x="763.9"/><use href="#d" x="816.2"/><use href="#b" x="868.5"/><use href="#b" x="920.8"/></g>
<g id="r55" transform="translate(0,2869.5)"><use href="#a" x="84"/><use href="#a" x="136.3"/><use href="#a" x="188.6"/><use href="#a" x="240.9"/><use href="#a" x="293.2"/><use href="#a" x="345.5"/><use href="#a" x="397.8"/><use href="#a" x="450.1"/><use href="#a" x="502.4"/><use href="#a" x="554.7"/><use href="#a" x="607"/><use href="#a" x="659.3"/><use href="#a" x="711.6"/><use href="#a" x="763.9"/><use href="#a" x="816.2"/><use href="#a" x="868.5"/><use href="#a" x="920.8"/></g>
<g id="r56" transform="translate(0,2921.5)"><use href="#b" x="84"/><use href="#b" x="136.3"/><use href="#b" x="188.6"/><use href="#b" x="240.9"/><use href="#b" x="293.2"/><use href="#b" x="345.5"/><use href="#b" x="397.8"/><use href="#b" x="450.1"/><use href="#b" x="502.4"/><use href="#b" x="554.7"/><use href="#b" x="607"/><use href="#b" x="659.3"/><use href="#b" x="711.6"/><use href="#b" x="763.9"/><use href="#b" x="816.2"/><use href="#b" x="868.5"/><use href="#b" x="920.8"/></g>
<g id="r57" transform="translate(0,2973.5)"><use href="#a" x="84"/><use href="#a" x="136.3"/><use href="#a" x="188.6"/><use href="#a" x="240.9"/><use href="#a" x="293.2"/><use href="#a" x="345.5"/><use href="#a" x="397.8"/><use href="#a" x="450.1"/><use href="#a" x="502.4"/><use href="#a" x="554.7"/><use href="#a" x="607"/><use href="#a" x="659.3"/><use href="#a" x="711.6"/><use href="#a" x="763.9"/><use href="#a" x="816.2"/><use href="#a" x="868.5"/><use href="#a" x="920.8"/></g>
<g id="r58" transform="translate(0,3025.5)"><use href="#b" x="84"/><use href="#b" x="136.3"/><use href="#d" x="188.6"/><use href="#d" x="240.9"/><use href="#d" x="293.2"/><use href="#d" x="345.5"/><use href="#d" x="397.8"/><use href="#d" x="450.1"/><use href="#d" x="502.4"/><use href="#d" x="554.7"/><use href="#b" x="607"/><use href="#b" x="659.3"/><use href="#b" x="711.6"/><use href="#b" x="763.9"/><use href="#b" x="816.2"/><use href="#b" x="868.5"/><use href="#b" x="920.8"/></g>
<g id="r59" transform="translate(0,3077.5)"><use href="#a" x="84"/><use href="#c" x="136.3"/><use href="#c" x="188.6"/><use href="#c" x="240.9"/><use href="#c" x="293.2"/><use href="#c" x="345.5"/><use href="#c" x="397.8"/><use href="#c" x="450.1"/><use href="#c" x="502.4"/><use href="#c" x="554.7"/><use href="#c" x="607"/><use href="#c" x="659.3"/><use href="#a" x="711.6"/><use href="#a" x="763.9"/><use href="#a" x="816.2"/><use href="#a" x="868.5"/><use href="#a" x="920.8"/></g>
<g id="r60" transform="translate(0,3129.5)"><use href="#b" x="84"/><use href="#d" x="136.3"/><use href="#d" x="188.6"/><use href="#d" x="240.9"/><use href="#d" x="293.2"/><use href="#b" x="345.5"/><use href="#d" x="397.8"/><use href="#d" x="450.1"/><use href="#d" x="502.4"/><use href="#d" x="554.7"/><use href="#d" x="607"/><use href="#d" x="659.3"/><use href="#d" x="711.6"/><use href="#d" x="763.9"/><use href="#b" x="816.2"/><use href="#b" x="868.5"/><use href="#b" x="920.8"/></g>
<g id="r61" transform="translate(0,3181.5)"><use href="#a" x="84"/><use href="#c" x="136.3"/><use href="#a" x="188.6"/><use href="#a" x="240.9"/><use href="#a" x="293.2"/><use href="#a" x="345.5"/><use href="#a" x="397.8"/><use href="#c" x="450.1"/><use href="#c" x="502.4"/><use href="#a" x="554.7"/><use href="#a" x="607"/><use href="#a" x="659.3"/><use href="#c" x="711.6"/><use href="#c" x="763.9"/><use href="#a" x="816.2"/><use href="#a" x="868.5"/><use href="#a" x="920.8"/></g>
<g id="r62" transform="translate(0,3233.5)"><use href="#b" x="84"/><use href="#b" x="136.3"/><use href="#b" x="188.6"/><use href="#b" x="240.9"/><use href="#b" x="293.2"/><use href="#b" x="345.5"/><use href="#b" x="397.8"/><use href="#d" x="450.1"/><use href="#d" x="502.4"/><use href="#b" x="554.7"/><use href="#b" x="607"/><use href="#b" x="659.3"/><use href="#b" x="711.6"/><use href="#d" x="763.9"/><use href="#d" x="816.2"/><use href="#b" x="868.5"/><use href="#b" x="920.8"/></g>
<g id="r63" transform="translate(0,3285.5)"><use href="#a" x="84"/><use href="#a" x="136.3"/><use href="#a" x="188.6"/><use href="#a" x="240.9"/><use href="#a" x="293.2"/><use href="#a" x="345.5"/><use href="#a" x="397.8"/><use href="#c" x="450.1"/><use href="#c" x="502.4"/><use href="#a" x="554.7"/><use href="#a" x="607"/><use href="#a" x="659.3"/><use href="#a" x="711.6"/><use href="#a" x="763.9"/><use href="#c" x="816.2"/><use href="#c" x="868.5"/><use href="#a" x="920.8"/></g>
<g id="r64" transform="translate(0,3337.5)"><use href="#b" x="84"/><use href="#b" x="136.3"/><use href="#b" x="188.6"/><use href="#b" x="240.9"/><use href="#b" x="293.2"/><use href="#b" x="345.5"/><use href="#b" x="397.8"/><use href="#d" x="450.1"/><use href="#d" x="502.4"/><use href="#b" x="554.7"/><use href="#b" x="607"/><use href="#b" x="659.3"/><use href="#b" x="711.6"/><use href="#b" x="763.9"/><use href="#d" x="816.2"/><use href="#d" x="868.5"/><use href="#b" x="920.8"/></g>
<g id="r65" transform="translate(0,3389.5)"><use href="#a" x="84"/><use href="#a" x="136.3"/><use href="#a" x="188.6"/><use href="#a" x="240.9"/><use href="#a" x="293.2"/><use href="#a" x="345.5"/><use href="#a" x="397.8"/><use href="#c" x="450.1"/><use href="#c" x="502.4"/><use href="#a" x="554.7"/><use href="#a" x="607"/><use href="#a" x="659.3"/><use href="#a" x="711.6"/><use href="#c" x="763.9"/><use href="#c" x="816.2"/><use href="#a" x="868.5"/><use href="#a" x="920.8"/></g>
<g id="r66" transform="translate(0,3441.5)"><use href="#b" x="84"/><use href="#d" x="136.3"/><use href="#d" x="188.6"/><use href="#b" x="240.9"/><use href="#b" x="293.2"/><use href="#b" x="345.5"/><use href="#b" x="397.8"/><use href="#d" x="450.1"/><use href="#d" x="502.4"/><use href="#d" x="554.7"/><use href="#b" x="607"/><use href="#d" x="659.3"/><use href="#d" x="711.6"/><use href="#d" x="763.9"/><use href="#b" x="816.2"/><use href="#b" x="868.5"/><use href="#b" x="920.8"/></g>
<g id="r67" transform="translate(0,3493.5)"><use href="#a" x="84"/><use href="#c" x="136.3"/><use href="#c" x="188.6"/><use href="#c" x="240.9"/><use href="#c" x="293.2"/><use href="#c" x="345.5"/><use href="#c" x="397.8"/><use href="#c" x="450.1"/><use href="#c" x="502.4"/><use href="#c" x="554.7"/><use href="#c" x="607"/><use href="#c" x="659.3"/><use href="#c" x="711.6"/><use href="#c" x="763.9"/><use href="#a" x="816.2"/><use href="#a" x="868.5"/><use href="#a" x="920.8"/></g>
<g id="r68" transform="translate(0,3545.5)"><use href="#b" x="84"/><use href="#d" x="136.3"/><use href="#d" x="188.6"/><use href="#d" x="240.9"/><use href="#d" x="293.2"/><use href="#d" x="345.5"/><use href="#d" x="397.8"/><use href="#d" x="450.1"/><use href="#d" x="502.4"/><use href="#d" x="554.7"/><use href="#d" x="607"/><use href="#d" x="659.3"/><use href="#b" x="711.6"/><use href="#b" x="763.9"/><use href="#b" x="816.2"/><use href="#b" x="868.5"/><use href="#b" x="920.8"/></g>
<g id="r69" transform="translate(0,3597.5)"><use href="#a" x="84"/><use href="#a" x="136.3"/><use href="#a" x="188.6"/><use href="#c" x="240.9"/><use href="#c" x="293.2"/><use href="#c" x="345.5"/><use href="#c" x="397.8"/><use href="#c" x="450.1"/><use href="#c" x="502.4"/><use href="#a" x="554.7"/><use href="#a" x="607"/><use href="#a" x="659.3"/><use href="#a" x="711.6"/><use href="#a" x="763.9"/><use href="#a" x="816.2"/><use href="#a" x="868.5"/><use href="#a" x="920.8"/></g>
<g id="r70" transform="translate(0,3649.5)"><use href="#b" x="84"/><use href="#b" x="136.3"/><use href="#b" x="188.6"/><use href="#b" x="240.9"/><use href="#b" x="293.2"/><use href="#b" x="345.5"/><use href="#b" x="397.8"/><use href="#b" x="450.1"/><use href="#b" x="502.4"/><use href="#b" x="554.7"/><use href="#b" x="607"/><use href="#b" x="659.3"/><use href="#b" x="711.6"/><use href="#b" x="763.9"/><use href="#b" x="816.2"/><use href="#b" x="868.5"/><use href="#b" x="920.8"/></g>
</g>

<text class="wm" x="503" y="1860" text-anchor="middle">BRACELETBOOK.COM</text>
</svg>
